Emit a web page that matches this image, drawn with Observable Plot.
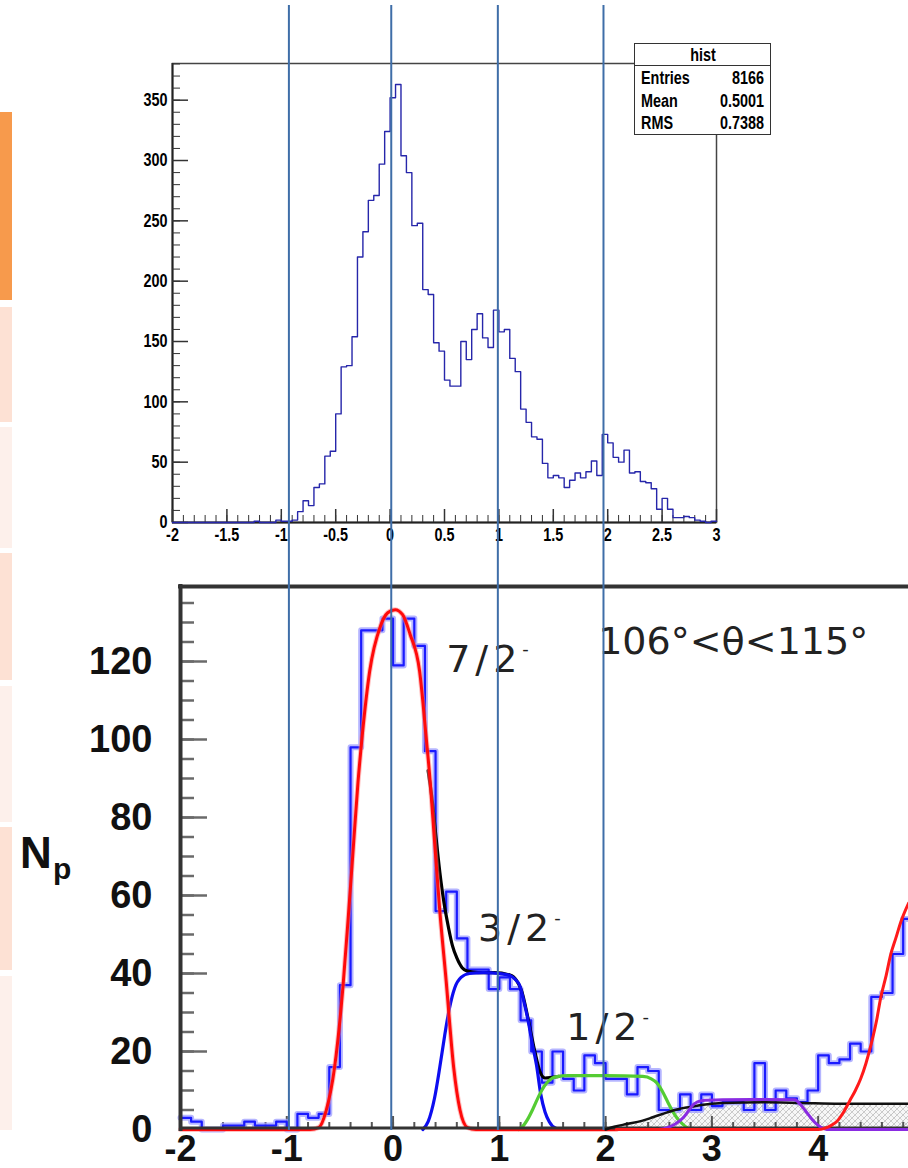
<!DOCTYPE html>
<html>
<head>
<meta charset="utf-8">
<script src="https://cdn.jsdelivr.net/npm/d3@7"></script>
<script src="https://cdn.jsdelivr.net/npm/@observablehq/plot@0.6"></script>
<style>
  body { margin: 0; background: #fff; }
  #wrap { position: relative; width: 908px; height: 1168px; overflow: hidden; background: #fff; }
  .layer { position: absolute; left: 0; }
  .strip { position: absolute; left: 0; width: 12px; }
  #stats { position: absolute; left: 634px; top: 43px; width: 137px; height: 92px; box-sizing: border-box;
           border: 1.5px solid #333; background: #fff;
           font-family: "Liberation Sans", Arial, sans-serif; font-weight: bold; font-size: 18px; color: #000; }
  #stats .row { position: absolute; left: 6px; right: 6px; height: 18px; line-height: 18px; }
  #stats .row span { position: absolute; display: inline-block; transform: scaleX(0.8); }
  #stats .row span.k { left: 0; transform-origin: left center; }
  #stats .row span.v { right: 0; transform-origin: right center; }
  #stats .row span.c { left: 50%; transform: translateX(-50%) scaleX(0.8); }
  #stats .sep { position: absolute; left: 0; right: 0; top: 21px; border-top: 1.5px solid #333; }
  .np { position: absolute; font-family: "Liberation Sans", Arial, sans-serif; font-weight: bold; color: #111; line-height: 1; }
</style>
</head>
<body>
<div id="wrap">
  <div class="strip" style="top:112px;height:188px;background:#f79a4c"></div>
  <div class="strip" style="top:307px;height:115px;background:#fde1d4"></div>
  <div class="strip" style="top:427px;height:121px;background:#fdf0eb"></div>
  <div class="strip" style="top:553px;height:127px;background:#fde1d4"></div>
  <div class="strip" style="top:686px;height:136px;background:#fdf0eb"></div>
  <div class="strip" style="top:827px;height:143px;background:#fde1d4"></div>
  <div class="strip" style="top:976px;height:154px;background:#fdf0eb"></div>
</div>
<script>
// ------------------------------------------------------------------ data
// upper ROOT histogram "hist": 100 bins of 0.05 from -2 to 3
const topBinStart = -2, topBinWidth = 0.05;
const topCounts = [0,0,0,0,0,0,0,0,0,0,0,0,0,0,0,
  1,0,0,0,2,1,1,2,9,18,
  14,29,32,55,59,90,129,130,154,220,
  241,267,271,297,324,352,363,304,290,246,
  248,193,189,149,142,118,113,113,150,135,
  160,173,153,145,176,158,160,136,125,94,
  83,71,69,49,37,39,37,29,35,41,
  37,42,51,39,73,66,54,50,60,41,
  42,34,33,28,11,20,11,4,4,5,
  4,2,1,0,1];
const topYMajor = [0,50,100,150,200,250,300,350];
const topYMinor = d3.range(0, 381, 10);
const topXMajor = [-2,-1.5,-1,-0.5,0,0.5,1,1.5,2,2.5,3];
const topXMinor = d3.range(-20, 31, 1).map(d => d / 10);
const statsTitle = "hist";
const statsRows = [["Entries","8166"],["Mean","0.5001"],["RMS","0.7388"]];

// lower fitted spectrum: bins of 0.1 from -2
const botBinStart = -2, botBinWidth = 0.1;
const botCounts = [3,2,0,0,1,1,2,1,1,2,
  0,4,3,4,16,37,98,128,128,131,
  119,131,124,97,56,61,49,41,41,36,
  39,36,28,20,12,20,13,10,19,17,
  13,13,9,16,15,5,5,9,5,9,
  6,7,7,5,17,5,10,8,7,10,
  19,17,18,22,20,34,35,45,54];
const fit72 = [[-2,0],[-0.78,0],[-0.70,0.5],[-0.63,4.8],[-0.55,16],[-0.47,37],[-0.42,55],[-0.38,70],[-0.33,89],[-0.29,101],
  [-0.22,117.5],[-0.12,129],[-0.05,132.5],[0.02,133.3],[0.09,132],[0.16,127],[0.25,117.5],[0.31,101],[0.35,89],
  [0.39,74],[0.44,56],[0.50,38],[0.57,16],[0.63,5],[0.70,0.5],[0.78,0],[2.1,0]];
const fitTotal = [[0.33,92],[0.37,84],[0.40,76],[0.44,66],[0.48,58],[0.52,52],[0.56,47],[0.60,44],[0.65,41.5],[0.70,40.6],
  [0.80,40.2],[0.95,40.2],[1.10,39.6],[1.16,38.3],[1.21,35.5],[1.27,28.5],[1.33,20.5],[1.38,15],[1.43,13.2],[1.50,13.4],[1.56,13.6]];
const fit32 = [[0.28,0],[0.33,2],[0.39,8],[0.44,16],[0.485,24],[0.53,31],[0.58,36.3],[0.64,39],[0.72,40],[0.85,40.2],
  [1.0,40],[1.1,39.5],[1.15,38.5],[1.19,37],[1.23,33],[1.27,28],[1.31,22],[1.35,16.5],[1.39,9],[1.43,4.5],[1.47,2],[1.53,0.3],[1.58,0]];
const fit12 = [[1.18,0],[1.22,0.8],[1.27,2.8],[1.32,5.5],[1.37,8.5],[1.42,11],[1.47,12.6],[1.53,13.5],[1.65,13.8],[2.0,13.8],
  [2.35,13.6],[2.43,13],[2.48,12],[2.53,10],[2.58,7.3],[2.62,5.2],[2.67,3],[2.72,1.5],[2.78,0.3],[2.84,0]];
const fitPurple = [[2.5,0],[2.58,0.5],[2.66,1.5],[2.73,3],[2.78,4.8],[2.83,6.5],[2.9,7.4],[3.1,7.6],[3.5,7.7],[3.78,7.6],
  [3.83,6.5],[3.88,4.8],[3.93,3],[3.98,1.5],[4.03,0.5],[4.08,0],[4.85,0]];
const fitRight = [[2.1,0],[4.0,0],[4.06,0.3],[4.12,1],[4.18,2.2],[4.24,4.5],[4.3,7.5],[4.35,10],[4.4,13],[4.45,17],[4.5,22],
  [4.55,28],[4.59,34],[4.64,39.5],[4.68,44.6],[4.73,49],[4.78,53.4],[4.85,58]];
const background = [[2.0,0],[2.08,0.7],[2.2,1.4],[2.34,2.2],[2.45,3.2],[2.58,4.4],[2.68,5.2],[2.8,5.8],[2.9,6.3],
  [3.1,6.8],[3.5,7],[3.85,6.8],[4.2,6.6],[4.85,6.6]];
const botYMajor = [0,20,40,60,80,100,120];
const botYMinor = d3.range(0, 140, 5);
const botXMajor = [-2,-1,0,1,2,3,4];
const botXMinor = d3.range(-10, 25, 1).map(d => d / 5);
const annotations = [
  {label: "7/2", sup: "-", x: 0.50, y: 120.5},
  {label: "3/2", sup: "-", x: 0.80, y: 51.5},
  {label: "1/2", sup: "-", x: 1.63, y: 26},
  {label: "106°<θ<115°", sup: "", x: 1.93, y: 125}
];
const guideX = [-0.98, -0.017, 0.986, 1.98];

// ------------------------------------------------------------------ helpers
const pts = arr => arr.map(([x, y]) => ({x, y}));
function steps(start, width, counts) {
  const s = counts.map((c, i) => ({x: start + i * width, y: c}));
  s.push({x: start + counts.length * width, y: counts[counts.length - 1]});
  return s;
}
const wrap = document.getElementById("wrap");
function place(node, top) {
  node.classList.add("layer");
  node.style.top = top + "px";
  wrap.appendChild(node);
}

// ------------------------------------------------------------------ upper histogram
const topPlot = Plot.plot({
  width: 908, height: 560,
  marginLeft: 172, marginRight: 192, marginTop: 63, marginBottom: 38,
  x: {domain: [-2, 3], axis: null},
  y: {domain: [0, 380.4], axis: null},
  style: {background: "transparent", fontFamily: '"Liberation Sans",Arial,sans-serif', fontSize: "18px", fontWeight: "bold", color: "#000", overflow: "visible"},
  marks: [
    Plot.frame({stroke: "#444", strokeWidth: 1.5}),
    Plot.ruleX([-2], {stroke: "#222", strokeWidth: 2}),
    Plot.ruleY([0], {stroke: "#222", strokeWidth: 2}),
    Plot.tickY(topYMinor, {y: d => d, stroke: "#333", insetRight: 544 - 8}),
    Plot.tickY(topYMajor, {y: d => d, stroke: "#333", strokeWidth: 1.5, insetRight: 544 - 16}),
    Plot.tickX(topXMinor, {x: d => d, stroke: "#333", insetTop: 459 - 7}),
    Plot.tickX(topXMajor, {x: d => d, stroke: "#333", strokeWidth: 1.5, insetTop: 459 - 13}),
    Plot.line(steps(topBinStart, topBinWidth, topCounts), {x: "x", y: "y", curve: "step-after", stroke: "#2626aa", strokeWidth: 1.4}),
    Plot.axisY(topYMajor, {label: null, tickSize: 0, tickPadding: 5, tickFormat: d => String(d)}),
    Plot.axisX(topXMajor, {label: null, tickSize: 0, tickPadding: 6, tickFormat: d => String(d)})
  ]
});
// condensed look of the ROOT labels
d3.select(topPlot).selectAll("text").each(function() {
  const t = this.getAttribute("transform");
  if (t) this.setAttribute("transform", t + " scale(0.8,1)");
});
place(topPlot, 0);

// stats box
const stats = document.createElement("div");
stats.id = "stats";
stats.innerHTML = `<div class="row" style="top:2px"><span class="c">${statsTitle}</span></div><div class="sep"></div>` +
  statsRows.map((r, i) => `<div class="row" style="top:${25 + i * 22.5}px"><span class="k">${r[0]}</span><span class="v">${r[1]}</span></div>`).join("");
wrap.appendChild(stats);

// ------------------------------------------------------------------ lower fitted spectrum
const botPlot = Plot.plot({
  width: 908, height: 608,
  marginLeft: 180, marginRight: 0, marginTop: 26, marginBottom: 39,
  x: {domain: [-2, 4.85], axis: null},
  y: {domain: [0, 139.23], axis: null},
  style: {background: "transparent", fontFamily: '"Liberation Sans",Arial,sans-serif', fontSize: "38px", fontWeight: "bold", color: "#111", overflow: "visible"},
  marks: [
    Plot.areaY(pts(background), {x: "x", y: "y", fill: "url(#hatch)", curve: "monotone-x"}),
    Plot.tickY(botYMinor, {y: d => d, stroke: "#6a6a6a", strokeWidth: 2.5, insetRight: 728 - 14}),
    Plot.tickY(botYMajor, {y: d => d, stroke: "#6a6a6a", strokeWidth: 2.5, insetRight: 728 - 27}),
    Plot.tickX(botXMinor, {x: d => d, stroke: "#555", strokeWidth: 2, insetTop: 543 - 7}),
    Plot.tickX(botXMajor, {x: d => d, stroke: "#555", strokeWidth: 2, insetTop: 543 - 13}),
    Plot.line(steps(botBinStart, botBinWidth, botCounts), {x: "x", y: "y", curve: "step-after", stroke: "#9c9cff", strokeWidth: 6, strokeOpacity: 0.75}),
    Plot.line(steps(botBinStart, botBinWidth, botCounts), {x: "x", y: "y", curve: "step-after", stroke: "#1a1aff", strokeWidth: 2.2}),
    Plot.line(pts(fitTotal), {x: "x", y: "y", curve: "monotone-x", stroke: "#000", strokeWidth: 3.2}),
    Plot.line(pts(fit32), {x: "x", y: "y", curve: "monotone-x", stroke: "#0d0df0", strokeWidth: 3.2}),
    Plot.line(pts(fit12), {x: "x", y: "y", curve: "monotone-x", stroke: "#55cc33", strokeWidth: 3.2}),
    Plot.line(pts(fit72), {x: "x", y: "y", curve: "monotone-x", stroke: "#ff8080", strokeWidth: 5, strokeOpacity: 0.5}),
    Plot.line(pts(fit72), {x: "x", y: "y", curve: "monotone-x", stroke: "#ff0a0a", strokeWidth: 3}),
    Plot.ruleY([0], {stroke: "#333", strokeWidth: 3, dy: -1.5}),
    Plot.ruleX([-2], {stroke: "#333", strokeWidth: 4, strokeLinecap: "square"}),
    Plot.ruleY([139.23], {stroke: "#333", strokeWidth: 4, strokeLinecap: "square"}),
    Plot.line(pts(background), {x: "x", y: "y", curve: "monotone-x", stroke: "#111", strokeWidth: 2.5}),
    Plot.line(pts(fitPurple), {x: "x", y: "y", curve: "monotone-x", stroke: "#8a2be2", strokeWidth: 3}),
    Plot.line(pts(fitRight), {x: "x", y: "y", curve: "monotone-x", stroke: "#ff1a1a", strokeWidth: 3}),
    Plot.axisY(botYMajor, {label: null, tickSize: 0, tickPadding: 28, tickFormat: d => String(d)}),
    Plot.axisX(botXMajor, {label: null, tickSize: 0, tickPadding: 6, fontSize: 36, tickFormat: d => String(d)}),
    Plot.text(annotations, {x: "x", y: "y", text: "label", textAnchor: "start", lineAnchor: "middle",
      fontSize: 38, fontWeight: "normal", fontFamily: '"DejaVu Sans",sans-serif', fill: "#222"})
  ]
});
// fractions: wider spacing plus a small superscript minus
d3.select(botPlot).selectAll("text").each(function() {
  const a = annotations.find(d => d.sup && d.label === this.textContent);
  if (a) {
    d3.select(this).style("letter-spacing", "5px")
      .append("tspan").attr("dy", "-17").attr("font-size", "18px").text(a.sup);
  }
});
// hatch pattern for the background component
const defs = d3.select(botPlot).insert("defs", ":first-child");
const pat = defs.append("pattern").attr("id", "hatch").attr("patternUnits", "userSpaceOnUse").attr("width", 6).attr("height", 6);
pat.append("rect").attr("width", 6).attr("height", 6).attr("fill", "#f7f7f7");
pat.append("path").attr("d", "M0,6L6,0M-1,1L1,-1M5,7L7,5").attr("stroke", "#c4c4c4").attr("stroke-width", 1);
pat.append("path").attr("d", "M0,0L6,6M-1,5L1,7M5,-1L7,1").attr("stroke", "#d4d4d4").attr("stroke-width", 1);
place(botPlot, 560);

// y-axis title N_p
const N = document.createElement("div");
N.className = "np"; N.textContent = "N";
N.style.cssText += "left:20px;top:831px;font-size:44px;";
wrap.appendChild(N);
const p = document.createElement("div");
p.className = "np"; p.textContent = "p";
p.style.cssText += "left:53px;top:854px;font-size:30px;";
wrap.appendChild(p);

// ------------------------------------------------------------------ guide lines spanning both panels
const overlay = Plot.plot({
  width: 908, height: 1168,
  marginLeft: 180, marginRight: 0, marginTop: 5, marginBottom: 38,
  x: {domain: [-2, 4.85], axis: null},
  y: {axis: null},
  style: {background: "transparent", overflow: "visible"},
  marks: [
    Plot.ruleX(guideX, {x: d => d, stroke: "#3f6ea8", strokeWidth: 2})
  ]
});
overlay.style.pointerEvents = "none";
place(overlay, 0);
</script>
</body>
</html>
